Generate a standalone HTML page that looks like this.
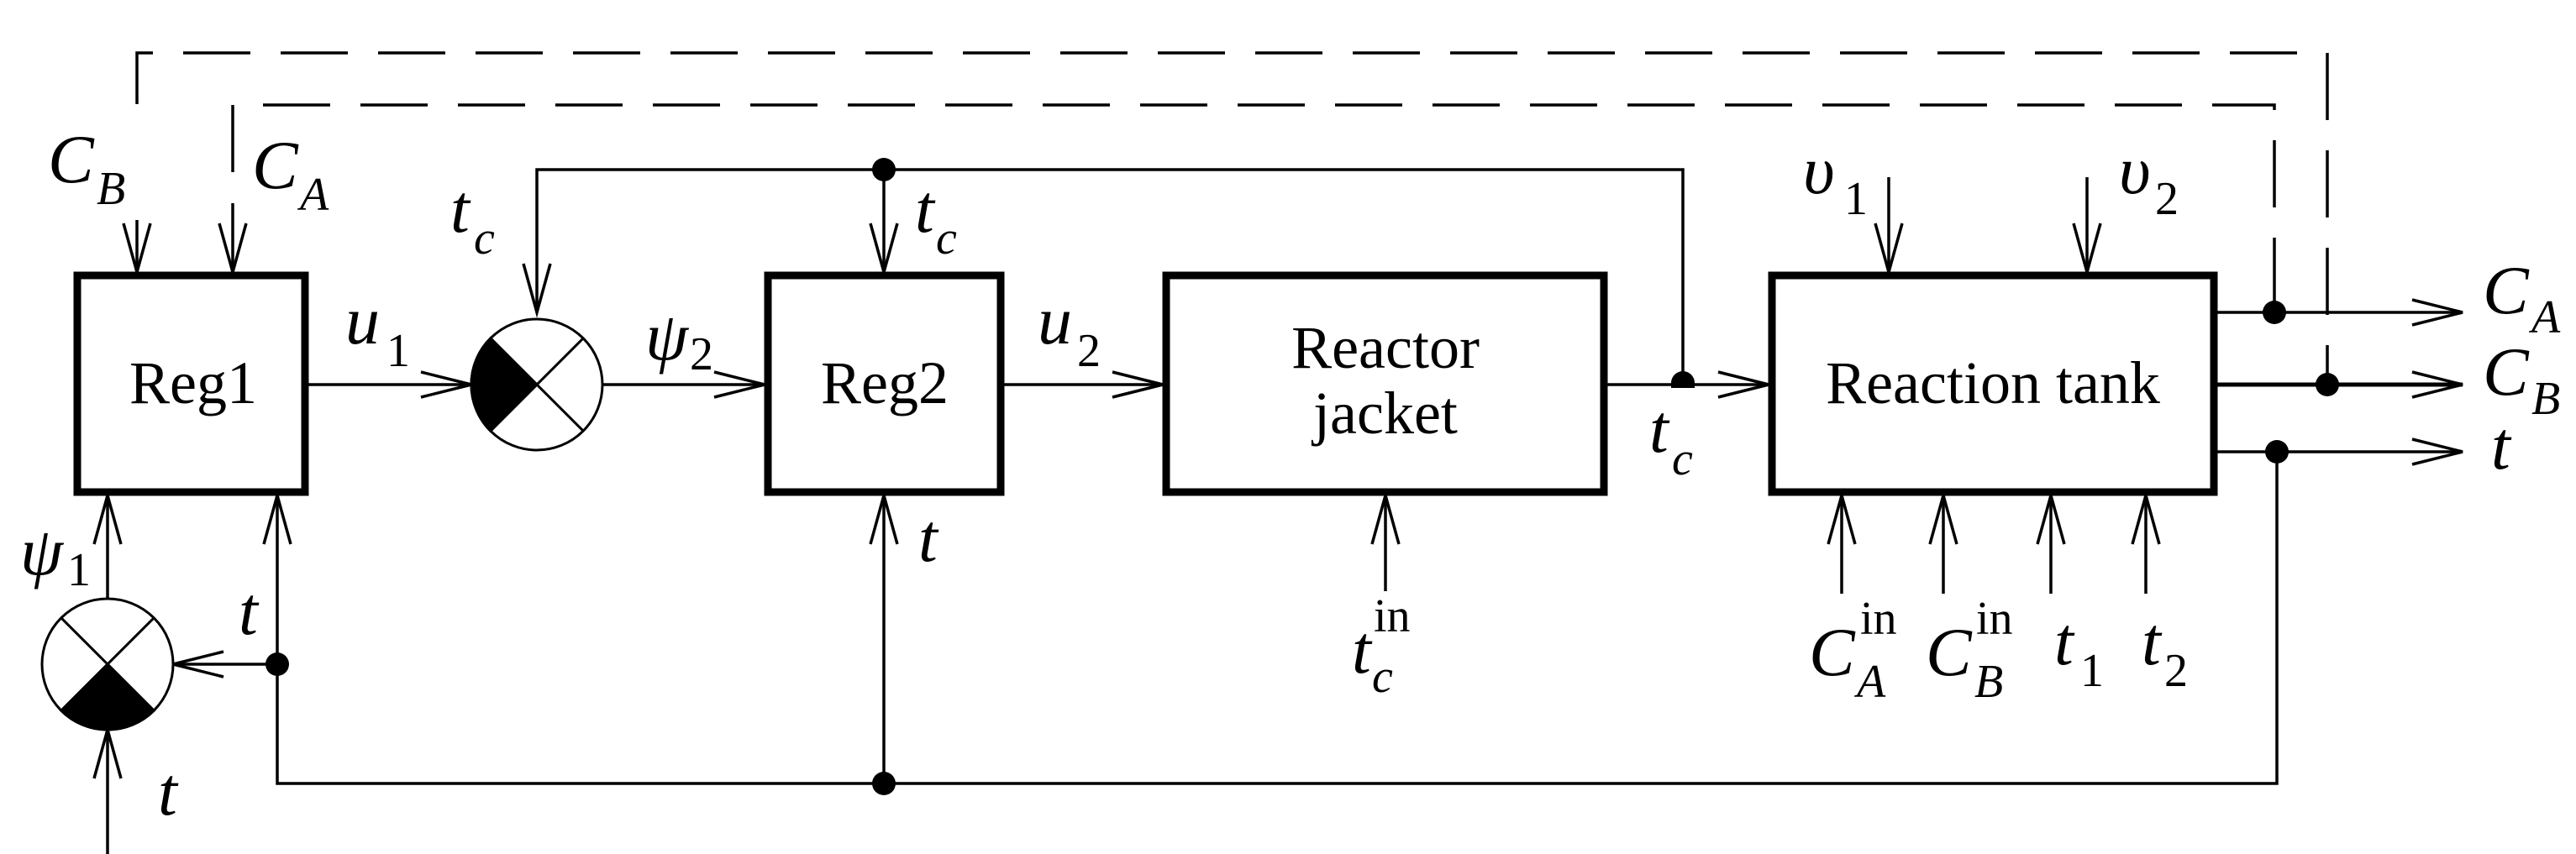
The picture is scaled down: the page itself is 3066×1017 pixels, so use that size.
<!DOCTYPE html>
<html><head><meta charset="utf-8"><style>
html,body{margin:0;padding:0;background:#fff;}
svg{display:block;}
svg text{font-family:"Liberation Serif","Times New Roman",serif;fill:#000;}
.i{font-style:italic;}
</style></head><body>
<svg width="3066" height="1017" viewBox="0 0 3066 1017" xmlns="http://www.w3.org/2000/svg" font-family="Liberation Serif, Times New Roman, serif">
<g fill="none" stroke="#000" stroke-width="3.5">
<path d="M163,124 L163,63 L2770,63 L2770,458" stroke-dasharray="80 36"/>
<path d="M277,205 L277,125 L2707,125 L2707,372" stroke-dasharray="80 36"/>
<line x1="163" y1="262" x2="163" y2="324"/>
<line x1="277" y1="242" x2="277" y2="324"/>
<path d="M639,372 L639,202 L2003,202 L2003,458"/>
<line x1="1052" y1="202" x2="1052" y2="324"/>
<line x1="367" y1="458" x2="561" y2="458"/>
<line x1="717" y1="458" x2="910" y2="458"/>
<line x1="1195" y1="458" x2="1384" y2="458"/>
<line x1="1913" y1="458" x2="2105" y2="458"/>
<line x1="128" y1="713" x2="128" y2="590"/>
<line x1="128" y1="1017" x2="128" y2="869"/>
<path d="M330,590 L330,933 L2710,933 L2710,538"/>
<line x1="330" y1="791" x2="206" y2="791"/>
<line x1="1052" y1="933" x2="1052" y2="590"/>
<line x1="1649" y1="704" x2="1649" y2="590"/>
<line x1="2248" y1="211" x2="2248" y2="324"/>
<line x1="2484" y1="211" x2="2484" y2="324"/>
<line x1="2192" y1="707" x2="2192" y2="590"/>
<line x1="2313" y1="707" x2="2313" y2="590"/>
<line x1="2441" y1="707" x2="2441" y2="590"/>
<line x1="2554" y1="707" x2="2554" y2="590"/>
<line x1="2639" y1="372" x2="2931" y2="372"/>
<line x1="2639" y1="458" x2="2931" y2="458" stroke-width="5"/>
<line x1="2639" y1="538" x2="2931" y2="538"/>
<path d="M147,266 L163,324 L179,266"/>
<path d="M261,266 L277,324 L293,266"/>
<path d="M623,314 L639,372 L655,314"/>
<path d="M1036,266 L1052,324 L1068,266"/>
<path d="M2232,266 L2248,324 L2264,266"/>
<path d="M2468,266 L2484,324 L2500,266"/>
<path d="M501,443 L561,458 L501,473"/>
<path d="M850,443 L910,458 L850,473"/>
<path d="M1324,443 L1384,458 L1324,473"/>
<path d="M2045,443 L2105,458 L2045,473"/>
<path d="M2871,357 L2931,372 L2871,387"/>
<path d="M2871,443 L2931,458 L2871,473"/>
<path d="M2871,523 L2931,538 L2871,553"/>
<path d="M112,648 L128,590 L144,648"/>
<path d="M314,648 L330,590 L346,648"/>
<path d="M1036,648 L1052,590 L1068,648"/>
<path d="M1633,648 L1649,590 L1665,648"/>
<path d="M2176,648 L2192,590 L2208,648"/>
<path d="M2297,648 L2313,590 L2329,648"/>
<path d="M2425,648 L2441,590 L2457,648"/>
<path d="M2538,648 L2554,590 L2570,648"/>
<path d="M112,927 L128,869 L144,927"/>
<path d="M266,776 L206,791 L266,806"/>
</g>
<g fill="none" stroke="#000" stroke-width="9">
<rect x="92" y="328" width="271" height="258"/>
<rect x="914" y="328" width="277" height="258"/>
<rect x="1388" y="328" width="521" height="258"/>
<rect x="2109" y="328" width="526" height="258"/>
</g>
<g stroke="#000" stroke-width="3">
<circle cx="639" cy="458" r="78" fill="#fff"/>
<path d="M639,458 L583.8,402.8 A78,78 0 0 0 583.8,513.2 Z" fill="#000"/>
<line x1="583.8" y1="402.8" x2="694.2" y2="513.2"/>
<line x1="583.8" y1="513.2" x2="694.2" y2="402.8"/>
<circle cx="128" cy="791" r="78" fill="#fff"/>
<path d="M128,791 L72.8,846.2 A78,78 0 0 0 183.2,846.2 Z" fill="#000"/>
<line x1="72.8" y1="735.8" x2="183.2" y2="846.2"/>
<line x1="72.8" y1="846.2" x2="183.2" y2="735.8"/>
</g>
<g fill="#000">
<circle cx="330" cy="791" r="14"/>
<circle cx="1052" cy="202" r="14"/>
<circle cx="1052" cy="933" r="14"/>
<path d="M1989,462 L1989,456 A14,14 0 0 1 2017,456 L2017,462 Z"/>
<circle cx="2707" cy="372" r="14"/>
<circle cx="2770" cy="458" r="14"/>
<circle cx="2710" cy="538" r="14"/>
</g>
<g font-size="72" text-anchor="middle" font-family="Liberation Serif, Times New Roman, serif">
<text x="230" y="480">Reg1</text>
<text x="1053" y="480">Reg2</text>
<text x="1649" y="438">Reactor</text>
<text x="1649" y="516">jacket</text>
<text x="2372" y="480">Reaction tank</text>
</g>
<g font-size="82" font-style="italic" font-family="Liberation Serif, Times New Roman, serif">
<text x="57" y="217">C</text>
<text x="300" y="224">C</text>
<text x="536" y="276">t</text>
<text x="1089" y="276">t</text>
<text x="411" y="409">u</text>
<text x="1235" y="409">u</text>
<text x="768" y="428">ψ</text>
<text x="24" y="684">ψ</text>
<text x="284" y="755">t</text>
<text x="188" y="970">t</text>
<text x="1093" y="668">t</text>
<text x="1609" y="801">t</text>
<text x="1963" y="538">t</text>
<text x="2146" y="230">υ</text>
<text x="2522" y="230">υ</text>
<text x="2955" y="373">C</text>
<text x="2955" y="470">C</text>
<text x="2965" y="558">t</text>
<text x="2153" y="804">C</text>
<text x="2292" y="804">C</text>
<text x="2445" y="791">t</text>
<text x="2549" y="791">t</text>
</g>
<g font-size="56" font-style="italic" font-family="Liberation Serif, Times New Roman, serif">
<text x="115" y="243">B</text>
<text x="357" y="250">A</text>
<text x="564" y="302">c</text>
<text x="1114" y="302">c</text>
<text x="1633" y="824">c</text>
<text x="1990" y="565">c</text>
<text x="3013" y="396">A</text>
<text x="3013" y="493">B</text>
<text x="2210" y="830">A</text>
<text x="2350" y="830">B</text>
</g>
<g font-size="56" font-family="Liberation Serif, Times New Roman, serif">
<text x="460" y="436">1</text>
<text x="1282" y="436">2</text>
<text x="821" y="440">2</text>
<text x="80" y="697">1</text>
<text x="2195" y="255">1</text>
<text x="2565" y="255">2</text>
<text x="2476" y="817">1</text>
<text x="2576" y="817">2</text>
<text x="1635" y="752">in</text>
<text x="2214" y="755">in</text>
<text x="2352" y="755">in</text>
</g>
</svg>
</body></html>
